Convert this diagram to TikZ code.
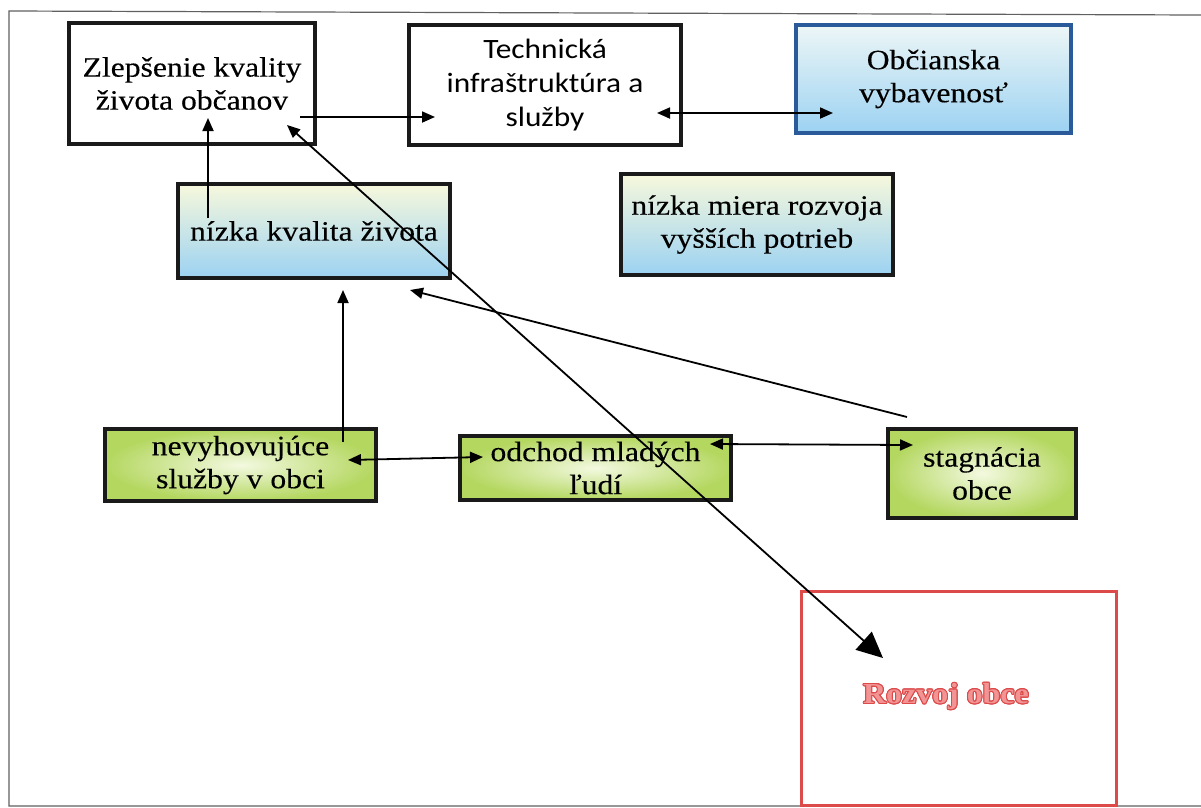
\documentclass[tikz,border=0pt]{standalone}
\usepackage{fontspec}
\setmainfont[FakeStretch=1.13,FakeBold=0.25]{Liberation Serif}
\newfontfamily\techfont[FakeStretch=1.12]{Carlito}
\newfontfamily\rozfont[FakeStretch=1.1]{Liberation Serif}
\usepackage[copies]{contour}
\contourlength{1pt}
\usetikzlibrary{arrows.meta,calc}
\definecolor{boxblack}{HTML}{1A1A1A}
\definecolor{obcblue}{HTML}{2B5A9B}
\definecolor{paletop}{HTML}{F7F8DC}
\definecolor{bluebot}{HTML}{9CD2F2}
\definecolor{obctop}{HTML}{EDF6F6}
\definecolor{greenout}{HTML}{B4D760}
\definecolor{greenin}{HTML}{F3F9E0}
\definecolor{rozred}{HTML}{DC4A4A}
\definecolor{rozfill}{HTML}{F29494}
\definecolor{framegray}{HTML}{606060}
\begin{document}
\begin{tikzpicture}[x=1pt,y=-1pt,
  smtip/.tip={Triangle[length=13pt,width=11pt]},
  bigtip/.tip={Triangle[length=26pt,width=24pt]},
  box/.style={draw=boxblack, line width=4.5pt, rectangle, inner sep=0pt, align=center,
    font=\fontsize{28}{33}\selectfont, text=black},
  bluegrad/.style={top color=paletop, bottom color=bluebot},
  greengrad/.style={inner color=greenin, outer color=greenout},
  conn/.style={line width=1.8pt, draw=black},
  frameline/.style={line width=1.2pt, draw=framegray}]
\useasboundingbox (0,0) rectangle (1201,807);
\fill[white] (0,0) rectangle (1201,807);
\draw[frameline] (1201,15) -- (9,11) -- (9,806) -- (1201,806);

\node[box, minimum width=246pt, minimum height=121pt] (zlep) at (192,83.5) {Zlepšenie kvality\\ života občanov};
\node[box, font=\techfont\fontsize{28}{34}\selectfont, minimum width=272pt, minimum height=120pt] (tech) at (545,85) {Technická\\ infraštruktúra a\\ služby};
\node[box, draw=obcblue, top color=obctop, bottom color=bluebot, minimum width=275pt, minimum height=108pt] (obc) at (933.5,79) {Občianska\\ vybavenosť};
\node[box, bluegrad, minimum width=272pt, minimum height=94pt] (kval) at (314,231) {nízka kvalita života};
\node[box, bluegrad, minimum width=272pt, minimum height=101pt] (miera) at (757,224.5) {nízka miera rozvoja\\ vyšších potrieb};
\node[box, greengrad, minimum width=271pt, minimum height=72pt] (nevy) at (240.5,465) {nevyhovujúce\\ služby v obci};
\node[box, greengrad, minimum width=271pt, minimum height=64pt] (odch) at (595.5,468) {odchod mladých\\ ľudí};
\node[box, greengrad, minimum width=188pt, minimum height=89pt] (stag) at (982,473.5) {stagnácia\\ obce};
\node[draw=rozred, line width=3pt, fill=white, inner sep=0pt, minimum width=315pt, minimum height=214pt] (roz) at (959,698.5) {};
\node[inner sep=0pt, font=\rozfont\bfseries\fontsize{29}{34}\selectfont] (rozt) at (946,697) {\contour{rozred}{\textcolor{rozfill}{Rozvoj obce}}};

\draw[conn, -{smtip}] ($(zlep.center)+(108,33.5)$) -- ($(tech.center)+(-110,32)$);
\draw[conn, {smtip}-{smtip}] ($(tech.center)+(112,28)$) -- ($(obc.center)+(-100.5,34)$);
\draw[conn, -{smtip}] ($(kval.center)+(-106,-13)$) -- ($(zlep.center)+(16,34.5)$);
\draw[conn, -{smtip}] ($(nevy.center)+(102.5,-23)$) -- ($(kval.center)+(29,59)$);
\draw[conn, -{smtip}] ($(stag.center)+(-75,-56.5)$) -- ($(kval.center)+(96,59)$);
\draw[conn, {smtip}-{smtip}] ($(nevy.center)+(107.5,-5)$) -- ($(odch.center)+(-112.5,-11)$);
\draw[conn, {smtip}-{smtip}] ($(odch.center)+(114.5,-24)$) -- ($(stag.center)+(-69,-28.5)$);
\draw[conn, {smtip}-{bigtip}] ($(zlep.center)+(95,41.5)$) -- ($(roz.center)+(-76,-40.5)$);
\end{tikzpicture}
\end{document}
